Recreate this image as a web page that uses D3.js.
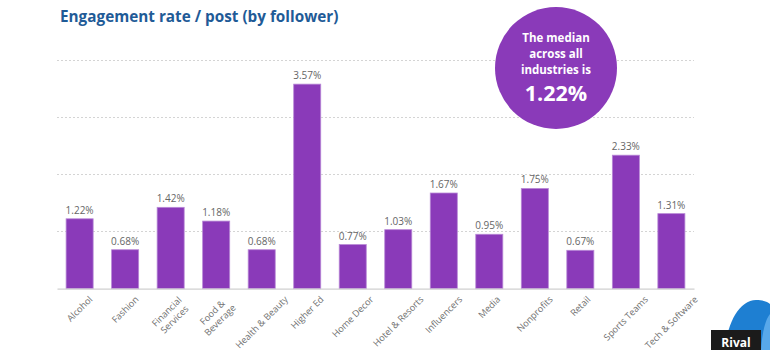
<!DOCTYPE html>
<html>
<head>
<meta charset="utf-8">
<script src="https://cdn.jsdelivr.net/npm/d3@7"></script>
<style>
  body { margin: 0; background: #fff; }
  svg { display: block; font-family: "Open Sans", sans-serif; }
</style>
</head>
<body>
<svg id="chart"></svg>
<script>
// data
const industries = ["Alcohol", "Fashion", "Financial\nServices", "Food &\nBeverage", "Health & Beauty", "Higher Ed",
  "Home Decor", "Hotel & Resorts", "Influencers", "Media", "Nonprofits", "Retail", "Sports Teams", "Tech & Software"];
const rates = [1.22, 0.68, 1.42, 1.18, 0.68, 3.57, 0.77, 1.03, 1.67, 0.95, 1.75, 0.67, 2.33, 1.31];
const gridTicks = [1, 2, 3, 4];
const medianLines = ["The median", "across all", "industries is"];
const medianValue = "1.22%";

const width = 770, height = 350;
const marginLeft = 57, marginRight = 76, marginTop = 59.5, marginBottom = 61.3;

const svg = d3.select("#chart")
  .attr("width", width)
  .attr("height", height)
  .attr("viewBox", [0, 0, width, height]);

const data = industries.map((d, i) => ({name: d, value: rates[i]}));

const x = d3.scaleBand()
  .domain(industries)
  .range([marginLeft, width - marginRight])
  .paddingInner(0.406)
  .paddingOuter(0.2);

const y = d3.scaleLinear()
  .domain([0, 4])
  .range([height - marginBottom, marginTop]);

// 标题
svg.append("text")
  .attr("x", 60)
  .attr("y", 22)
  .attr("fill", "#1f5b97")
  .attr("font-size", 15.3)
  .attr("font-weight", 700)
  .text("Engagement rate / post (by follower)");

// dashed grid
svg.append("g")
  .selectAll("line")
  .data(gridTicks)
  .join("line")
    .attr("x1", marginLeft)
    .attr("x2", width - marginRight)
    .attr("y1", d => Math.round(y(d)) + 0.5)
    .attr("y2", d => Math.round(y(d)) + 0.5)
    .attr("stroke", "#d4d4d4")
    .attr("stroke-dasharray", "2,2");

// bars
svg.append("g")
  .selectAll("rect")
  .data(data)
  .join("rect")
    .attr("x", d => x(d.name))
    .attr("y", d => y(d.value))
    .attr("width", x.bandwidth())
    .attr("height", d => y(0) - y(d.value))
    .attr("fill", "#8a3ab9")
    .attr("stroke", "#b888d6")
    .attr("stroke-width", 0.8);

// value labels
svg.append("g")
  .selectAll("text")
  .data(data)
  .join("text")
    .attr("x", d => x(d.name) + x.bandwidth() / 2)
    .attr("y", d => y(d.value) - 5)
    .attr("text-anchor", "middle")
    .attr("font-size", 10)
    .attr("fill", "#666")
    .text(d => d.value.toFixed(2) + "%");

// x axis
const xAxis = svg.append("g")
  .attr("transform", `translate(0,${y(0)})`)
  .call(d3.axisBottom(x).tickSize(0).tickFormat(""));
xAxis.select(".domain").attr("stroke", "#d0d0d0").attr("stroke-width", 1.2);

// rotated category labels, centred under each bar and hanging from the axis
const lab = svg.append("g")
  .selectAll("text")
  .data(data)
  .join("text")
    .attr("text-anchor", "middle")
    .attr("font-size", 9.2)
    .attr("fill", "#707070");
lab.each(function(d) {
  const lines = d.name.split("\n");
  const t = d3.select(this);
  t.selectAll("tspan")
    .data(lines)
    .join("tspan")
      .attr("x", 0)
      .attr("y", (l, i) => (i - (lines.length - 1) / 2) * 11)
      .attr("dy", "0.35em")
      .text(l => l);
  let L = 0;
  t.selectAll("tspan").each(function() { L = Math.max(L, this.getComputedTextLength()); });
  const cx = x(d.name) + x.bandwidth() / 2;
  const cy = y(0) + 9 + L * 0.354 + (lines.length - 1) * 4.5;
  t.attr("transform", `translate(${cx},${cy}) rotate(-45)`);
});

// median bubble
const bubble = svg.append("g").attr("transform", "translate(556,68)");
bubble.append("circle").attr("r", 61).attr("fill", "#8a3ab9");
bubble.append("g")
  .selectAll("text")
  .data(medianLines)
  .join("text")
    .attr("y", (d, i) => -26 + i * 16)
    .attr("text-anchor", "middle")
    .attr("fill", "#fff")
    .attr("font-size", 11.5)
    .attr("font-weight", 700)
    .text(d => d);
bubble.append("text")
  .attr("y", 33)
  .attr("text-anchor", "middle")
  .attr("fill", "#fff")
  .attr("font-size", 21.5)
  .attr("font-weight", 700)
  .text(medianValue);

// logo corner
const logo = svg.append("g");
logo.append("path")
  .attr("d", "M725,350 C727,322 740,300 756,300 C763,300 768,302 770,304 L770,350 Z")
  .attr("fill", "#1e7fd2");
logo.append("path")
  .attr("d", "M761,350 C762,334 765,320 770,314 L770,350 Z")
  .attr("fill", "#58a8ea");
logo.append("rect")
  .attr("x", 711).attr("y", 330).attr("width", 50).attr("height", 20)
  .attr("fill", "#1b1b1b");
logo.append("text")
  .attr("x", 736).attr("y", 347)
  .attr("text-anchor", "middle")
  .attr("fill", "#fff")
  .attr("font-size", 12)
  .attr("font-weight", 700)
  .text("Rival");
</script>
</body>
</html>
